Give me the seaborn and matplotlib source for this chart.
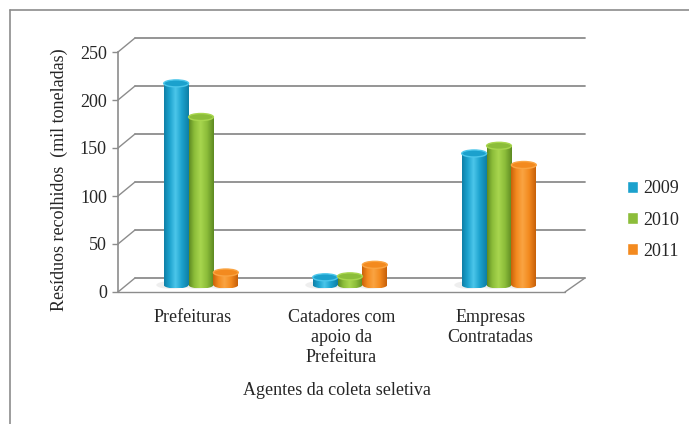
import numpy as np
import pandas as pd
import matplotlib
matplotlib.use('Agg')
import matplotlib.pyplot as plt
import matplotlib.transforms as mtransforms
from matplotlib.colors import LinearSegmentedColormap
from matplotlib.patches import Ellipse
from matplotlib.lines import Line2D
import seaborn as sns

# data
categorias = ['Prefeituras', 'Catadores com\napoio da\nPrefeitura', 'Empresas\nContratadas']
anos = ['2009', '2010', '2011']
v2009 = [210, 8, 137]
v2010 = [175, 9, 145]
v2011 = [13, 21, 125]
cores = ['#1BA1CD', '#8CBD3A', '#F38A1F']
escuras = ['#0E7FA6', '#5E8A22', '#C8610A']
claras = ['#4CC6EA', '#A8D64E', '#FAA442']

y_ticks = [0, 50, 100, 150, 200, 250]

GRID = '#8C8C8C'


def build_df():
    linhas = []
    for ano, vals in zip(anos, [v2009, v2010, v2011]):
        for cat, v in zip(categorias, vals):
            linhas.append({'Agente': cat, 'Ano': ano, 'Valor': v})
    return pd.DataFrame(linhas)


def desenha_cilindros(fig, ax):
    # shift bars half-way into the "depth" of the pseudo 3D box
    shift = ax.transData + mtransforms.ScaledTranslation(0.085, 0.07, fig.dpi_scale_trans)
    cap_h = 7.0 / 0.96  # ellipse height in data units (~7 px)
    for i, cont in enumerate(ax.containers):
        cmap = LinearSegmentedColormap.from_list(
            'cil%d' % i, [escuras[i], cores[i], claras[i], cores[i], escuras[i]])
        grad = cmap(np.linspace(0, 1, 64)[None, :] ** 0.9)
        for bar in cont:
            x0, w, h = bar.get_x(), bar.get_width(), bar.get_height()
            bar.set_transform(shift)
            bar.set_linewidth(0)
            bar.set_zorder(2)
            # soft shadow on the floor
            ax.add_patch(Ellipse((x0 + w * 0.3, 0), w * 1.2, cap_h * 1.1, transform=shift,
                                 facecolor='#C8C8C8', edgecolor='none', alpha=0.3, zorder=1))
            # bottom rounded part
            base = Ellipse((x0 + w / 2, 0), w, cap_h, transform=shift,
                           facecolor='none', edgecolor='none')
            ax.add_patch(base)
            im = ax.imshow(grad, extent=[x0, x0 + w, -cap_h / 2, cap_h / 2],
                           aspect='auto', transform=shift, zorder=2.05)
            im.set_clip_path(base)
            # body
            ax.imshow(grad, extent=[x0, x0 + w, 0, h], aspect='auto',
                      transform=shift, zorder=2.1)
            # top cap
            ax.add_patch(Ellipse((x0 + w / 2, h), w, cap_h, transform=shift,
                                 facecolor=cores[i], edgecolor=claras[i],
                                 linewidth=1.0, zorder=2.2))


def caixa_3d(ax):
    # back gridlines + diagonals + floor, like the Excel 3D box
    tr = ax.get_yaxis_transform()
    dx = 17.0 / 447
    dy = 14.0 / 0.96
    right = 1 + 20.0 / 447
    for y in y_ticks:
        ax.plot([dx, right], [y + dy, y + dy], color=GRID, lw=1.3,
                transform=tr, clip_on=False, zorder=0.5)
        ax.plot([0, dx], [y, y + dy], color=GRID, lw=1.0,
                transform=tr, clip_on=False, zorder=0.5)
    ax.plot([0, 1], [0, 0], color=GRID, lw=1.0, transform=tr, clip_on=False, zorder=0.6)
    ax.plot([1, right], [0, dy], color=GRID, lw=1.0, transform=tr, clip_on=False, zorder=0.6)


def main():
    df = build_df()

    sns.set_style('white')
    plt.rcParams['font.family'] = ['Liberation Serif', 'DejaVu Serif']

    fig = plt.figure(figsize=(6.89, 4.24), dpi=100)
    ax = fig.add_axes([118 / 689, 132 / 424, 447 / 689, 240 / 424])

    sns.barplot(data=df, x='Agente', y='Valor', hue='Ano', hue_order=anos,
                palette=cores, width=0.5, saturation=1, ax=ax)
    handles, labels = ax.get_legend_handles_labels()
    desenha_cilindros(fig, ax)

    ax.set_xlim(-0.5, 2.5)
    ax.set_ylim(0, 250)
    ax.set_yticks(y_ticks)
    ax.set_yticklabels([str(t) for t in y_ticks], fontsize=13)
    ax.set_xticks(range(len(categorias)))
    ax.set_xticklabels(categorias, fontsize=13, linespacing=1.25)
    ax.tick_params(axis='x', length=0, pad=12)
    ax.tick_params(axis='y', length=4, width=1, color=GRID, pad=4, direction='out', left=True)

    for s in ['top', 'right', 'bottom']:
        ax.spines[s].set_visible(False)
    ax.spines['left'].set_color(GRID)
    ax.spines['left'].set_linewidth(1.2)
    ax.set_facecolor('none')
    caixa_3d(ax)

    ax.set_ylabel('Resíduos recolhidos  (mil toneladas)', fontsize=13)
    ax.yaxis.set_label_coords(-0.112, 0.47)
    ax.set_xlabel('Agentes da coleta seletiva', fontsize=13)
    ax.xaxis.set_label_coords(0.49, -0.375)

    ax.legend(handles, labels, loc='center left',
              bbox_to_anchor=(627 / 689, (424 - 220) / 424),
              bbox_transform=fig.transFigure, frameon=False, fontsize=13,
              handlelength=0.6, handleheight=0.6, handletextpad=0.3,
              labelspacing=0.78, borderpad=0, borderaxespad=0)

    # outer chart border (cropped on right/bottom)
    fig.add_artist(Line2D([10 / 689, 10 / 689], [0, 1 - 10 / 424],
                          color=GRID, lw=1.2, transform=fig.transFigure))
    fig.add_artist(Line2D([10 / 689, 1], [1 - 10 / 424, 1 - 10 / 424],
                          color=GRID, lw=1.2, transform=fig.transFigure))

    fig.savefig('out.png', dpi=100)


if __name__ == '__main__':
    main()
